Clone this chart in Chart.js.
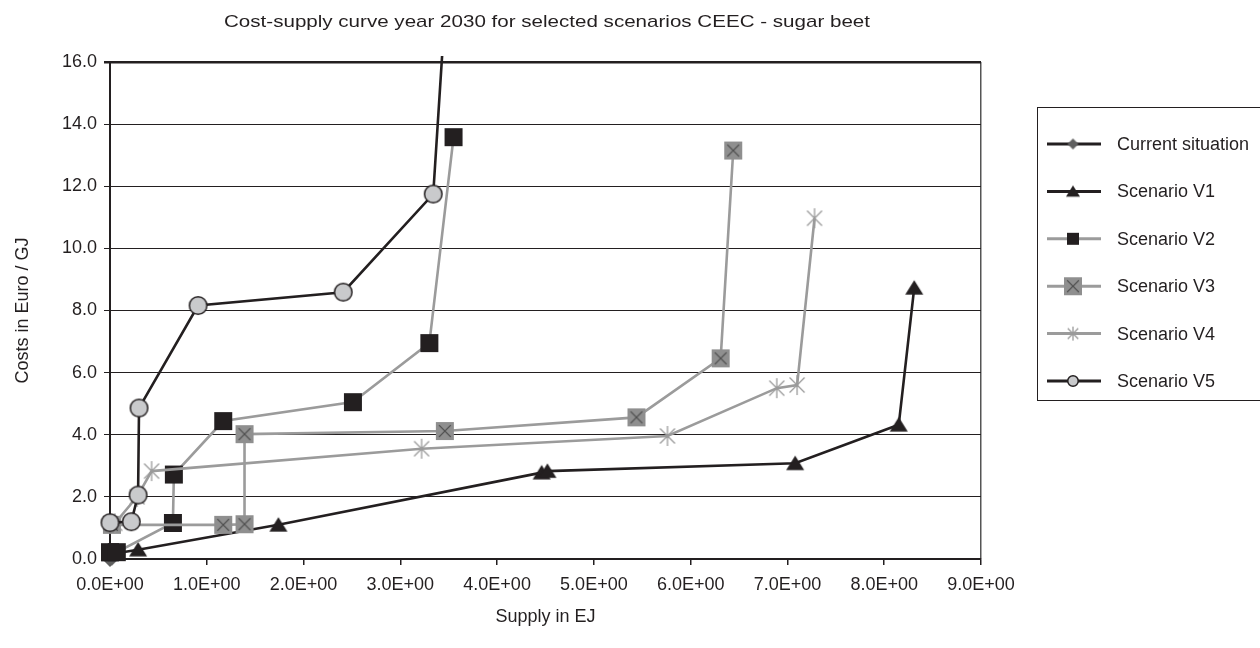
<!DOCTYPE html>
<html>
<head>
<meta charset="utf-8">
<title>Cost-supply curve 2030 CEEC - sugar beet</title>
<script src="https://cdn.jsdelivr.net/npm/chart.js@4.4.1/dist/chart.umd.min.js"></script>
<style>
  html, body { margin: 0; padding: 0; background: #fff; }
  #grafica { display: block; }
</style>
</head>
<body>
<canvas id="grafica" width="1260" height="648"></canvas>
<script>
// valores: x = Supply in EJ, y = Costs in Euro / GJ
const nombresSeries = ['Current situation', 'Scenario V1', 'Scenario V2', 'Scenario V3', 'Scenario V4', 'Scenario V5'];

const currentX = [0.00, 0.02];
const currentY = [0.00, 0.05];
const v1X = [0.00, 0.29, 1.74, 4.46, 4.52, 7.08, 8.15, 8.31];
const v1Y = [0.15, 0.30, 1.10, 2.78, 2.83, 3.08, 4.32, 8.73];
const v2X = [0.00, 0.07, 0.65, 0.66, 1.17, 2.51, 3.30, 3.55];
const v2Y = [0.22, 0.22, 1.16, 2.72, 4.44, 5.05, 6.95, 13.58];
const v3X = [0.02, 1.17, 1.39, 1.39, 3.46, 5.44, 6.31, 6.44];
const v3Y = [1.10, 1.10, 1.12, 4.02, 4.12, 4.56, 6.46, 13.15];
const v4X = [0.05, 0.28, 0.43, 3.22, 5.76, 6.89, 7.10, 7.28];
const v4Y = [1.15, 2.00, 2.83, 3.55, 3.96, 5.50, 5.60, 10.97];
const v5X = [0.00, 0.22, 0.29, 0.30, 0.91, 2.41, 3.34, 3.51];
const v5Y = [1.17, 1.20, 2.06, 4.86, 8.16, 8.59, 11.75, 20.00];

const xMin = 0, xMax = 9, xPaso = 1;
const yMin = 0, yMax = 16, yPaso = 2;

const NEGRO = '#231f20';
const GRIS = '#9b9b9b';
const fuente = '"Liberation Sans", Arial, sans-serif';

function puntos(xs, ys) {
    return xs.map((x, i) => ({ x: x, y: ys[i] }));
}

// formato 0.0E+00
function cientifico(v) {
    if (v === 0) return '0.0E+00';
    let e = Math.floor(Math.log10(Math.abs(v)));
    let m = v / Math.pow(10, e);
    let signo = e < 0 ? '-' : '+';
    let ee = String(Math.abs(e)).padStart(2, '0');
    return m.toFixed(1) + 'E' + signo + ee;
}

// marcadores dibujados en un canvas pequeño
function marcador(tipo, t) {
    const c = document.createElement('canvas');
    const pad = 2;
    c.width = t + pad * 2;
    c.height = t + pad * 2;
    const g = c.getContext('2d');
    const cx = c.width / 2, cy = c.height / 2, r = t / 2;
    if (tipo === 'rombo') {
        g.fillStyle = '#5f5f5f';
        g.beginPath();
        g.moveTo(cx, cy - r); g.lineTo(cx + r, cy); g.lineTo(cx, cy + r); g.lineTo(cx - r, cy);
        g.closePath(); g.fill();
    } else if (tipo === 'triangulo') {
        g.fillStyle = NEGRO;
        g.beginPath();
        g.moveTo(cx, cy - r * 0.85); g.lineTo(cx + r, cy + r * 0.75); g.lineTo(cx - r, cy + r * 0.75);
        g.closePath(); g.fill();
    } else if (tipo === 'cuadro') {
        g.fillStyle = NEGRO;
        g.fillRect(cx - r, cy - r, t, t);
    } else if (tipo === 'cuadroX') {
        g.fillStyle = '#8f8f8f';
        g.fillRect(cx - r, cy - r, t, t);
        g.strokeStyle = '#4d4d4d';
        g.lineWidth = 1.3;
        let k = r * 0.65;
        g.beginPath();
        g.moveTo(cx - k, cy - k); g.lineTo(cx + k, cy + k);
        g.moveTo(cx + k, cy - k); g.lineTo(cx - k, cy + k);
        g.stroke();
    } else if (tipo === 'asterisco') {
        g.strokeStyle = '#9a9a9a';
        g.lineWidth = 1.3;
        let k = r * 0.75;
        g.beginPath();
        g.moveTo(cx, cy - r); g.lineTo(cx, cy + r);
        g.moveTo(cx - k, cy - k); g.lineTo(cx + k, cy + k);
        g.moveTo(cx + k, cy - k); g.lineTo(cx - k, cy + k);
        g.stroke();
    } else if (tipo === 'circulo') {
        g.fillStyle = '#c9cacc';
        g.strokeStyle = NEGRO;
        g.lineWidth = 1.5;
        g.beginPath();
        g.arc(cx, cy, r - 0.75, 0, Math.PI * 2);
        g.fill(); g.stroke();
    }
    return c;
}

const tiposMarca = ['rombo', 'triangulo', 'cuadro', 'cuadroX', 'asterisco', 'circulo'];
const tamGrafica = [16, 18, 18, 18, 20, 19];
const tamLeyenda = [11, 14, 12, 18, 14, 12];
const coloresLinea = [NEGRO, NEGRO, GRIS, GRIS, GRIS, NEGRO];
const datosX = [currentX, v1X, v2X, v3X, v4X, v5X];
const datosY = [currentY, v1Y, v2Y, v3Y, v4Y, v5Y];

const marcasGrafica = tiposMarca.map((t, i) => marcador(t, tamGrafica[i]));
const marcasLeyenda = tiposMarca.map((t, i) => marcador(t, tamLeyenda[i]));

const datasets = nombresSeries.map((nombre, i) => ({
    label: nombre,
    data: puntos(datosX[i], datosY[i]),
    showLine: true,
    borderColor: coloresLinea[i],
    borderWidth: 2.6,
    tension: 0,
    pointStyle: marcasGrafica[i],
    pointRadius: 9,
    pointHoverRadius: 9,
    order: 6 - i,
    clip: { left: 14, top: 6, right: 14, bottom: 14 }
}));

// titulo propio, algo estirado a lo ancho como en la figura
const tituloPlugin = {
    id: 'tituloPropio',
    afterDraw(chart) {
        const ctx = chart.ctx;
        ctx.save();
        ctx.fillStyle = NEGRO;
        ctx.font = '17px ' + fuente;
        ctx.textAlign = 'center';
        ctx.textBaseline = 'middle';
        ctx.translate(547, 22);
        ctx.scale(1.21, 1);
        ctx.fillText('Cost-supply curve year 2030 for selected scenarios CEEC - sugar beet', 0, 0);
        ctx.restore();
    }
};

// leyenda con caja a la derecha
const leyendaPlugin = {
    id: 'leyendaPropia',
    afterDraw(chart) {
        const ctx = chart.ctx;
        ctx.save();
        ctx.strokeStyle = NEGRO;
        ctx.lineWidth = 1;
        ctx.strokeRect(1037.5, 107.5, 260, 293);
        ctx.font = '18px ' + fuente;
        ctx.textBaseline = 'middle';
        ctx.textAlign = 'left';
        nombresSeries.forEach((nombre, i) => {
            let y = 144 + i * 47.4;
            ctx.strokeStyle = coloresLinea[i];
            ctx.lineWidth = 3;
            ctx.beginPath();
            ctx.moveTo(1047, y);
            ctx.lineTo(1101, y);
            ctx.stroke();
            let m = marcasLeyenda[i];
            ctx.drawImage(m, 1073 - m.width / 2, y - m.height / 2);
            ctx.fillStyle = NEGRO;
            ctx.fillText(nombre, 1117, y + 1);
        });
        ctx.restore();
    }
};

const ctx = document.getElementById('grafica');
const grafica = new Chart(ctx, {
    type: 'scatter',
    data: { datasets: datasets },
    options: {
        responsive: false,
        animation: false,
        layout: { padding: { top: 62, right: 279, left: 0, bottom: 0 } },
        plugins: {
            legend: { display: false },
            title: { display: false },
            tooltip: { enabled: false }
        },
        scales: {
            x: {
                type: 'linear',
                min: xMin, max: xMax,
                afterFit: (s) => { s.height = 89; },
                ticks: {
                    stepSize: xPaso,
                    color: NEGRO,
                    font: { family: fuente, size: 18 },
                    padding: 9,
                    maxRotation: 0,
                    callback: (v) => cientifico(v)
                },
                grid: {
                    drawOnChartArea: true,
                    color: (c) => (c.tick && c.tick.value === xMax) ? '#555' : 'rgba(0,0,0,0)',
                    lineWidth: 1.5,
                    tickColor: NEGRO,
                    tickLength: 6
                },
                border: { color: NEGRO, width: 1.5 },
                title: {
                    display: true,
                    text: 'Supply in EJ',
                    color: NEGRO,
                    font: { family: fuente, size: 18 },
                    padding: { top: 0, bottom: 20 }
                }
            },
            y: {
                type: 'linear',
                min: yMin, max: yMax,
                afterFit: (s) => { s.width = 110; },
                ticks: {
                    stepSize: yPaso,
                    color: NEGRO,
                    font: { family: fuente, size: 18 },
                    padding: 7,
                    callback: (v) => v.toFixed(1)
                },
                grid: {
                    color: NEGRO,
                    lineWidth: (c) => (c.tick && c.tick.value === yMax) ? 2.5 : 1,
                    tickColor: NEGRO,
                    tickLength: 6
                },
                border: { color: NEGRO, width: 2 },
                title: {
                    display: true,
                    text: 'Costs in Euro / GJ',
                    color: NEGRO,
                    font: { family: fuente, size: 18 },
                    padding: { top: 12, bottom: 0 }
                }
            }
        }
    },
    plugins: [tituloPlugin, leyendaPlugin]
});
</script>
</body>
</html>
